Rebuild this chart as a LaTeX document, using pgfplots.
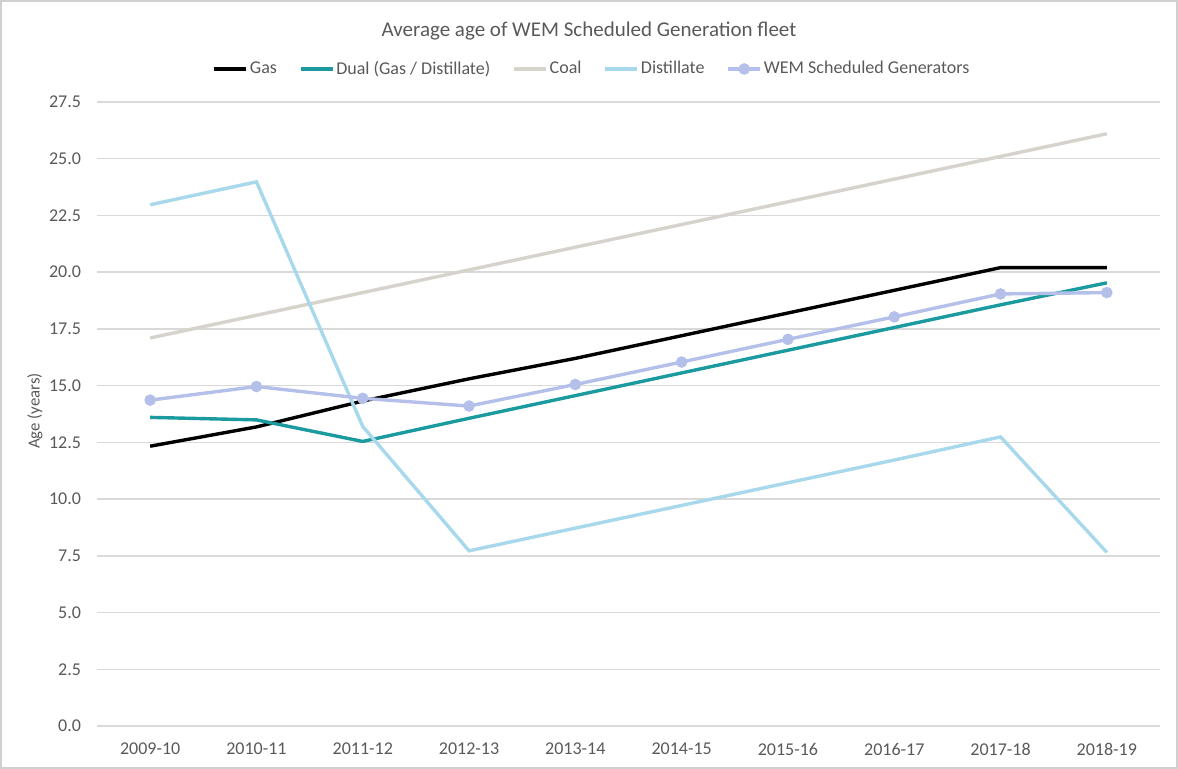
\documentclass[border=0pt]{standalone}
\usepackage{fontspec}
\setmainfont{Carlito}
\usepackage{pgfplots}
\pgfplotsset{compat=1.18}
\definecolor{dualc}{HTML}{1B9AA0}
\definecolor{coalc}{HTML}{D5D3CB}
\definecolor{distc}{HTML}{A8D8EB}
\definecolor{wemc}{HTML}{B4C0EA}
\definecolor{gridc}{HTML}{D9D9D9}
\definecolor{tickc}{HTML}{595959}
\definecolor{framec}{HTML}{D0D0D0}
\begin{document}
\begin{tikzpicture}
\useasboundingbox (0,0) rectangle (589pt,384.5pt);
\draw[draw=framec, line width=0.6pt] (0.5pt,0.5pt) rectangle (588.5pt,384pt);
\begin{axis}[
  at={(48.5pt,21.5pt)}, anchor=south west,
  scale only axis, width=531.5pt, height=312pt,
  xmin=-0.5, xmax=9.5, ymin=0, ymax=27.5,
  xtick={0,...,9},
  xticklabels={2009-10,2010-11,2011-12,2012-13,2013-14,2014-15,2015-16,2016-17,2017-18,2018-19},
  ytick={0,2.5,...,27.5},
  yticklabel style={/pgf/number format/.cd, fixed, fixed zerofill, precision=1},
  /pgf/number format/assume math mode=true,
  axis line style={draw=none}, major tick length=0pt,
  ymajorgrids, grid style={gridc, line width=0.7pt},
  tick label style={font=\fontsize{9}{10}\selectfont, text=tickc},
  xticklabel shift=5pt, yticklabel shift=4.5pt,
  ylabel={Age (years)},
  ylabel style={font=\fontsize{8.4}{10}\selectfont, text=tickc, at={(axis description cs:-0.0583,0.505)}, anchor=center},
  title={Average age of WEM Scheduled Generation fleet},
  title style={at={(axis description cs:0.4628,1.0946)}, anchor=center, font=\fontsize{10.5}{12}\selectfont, text=tickc},
  legend columns=-1,
  legend style={at={(axis description cs:0.4666,1.0529)}, anchor=center, draw=none, fill=none,
    font=\fontsize{9}{10}\selectfont, text=tickc,
    /tikz/every even column/.append style={column sep=9pt},
    /tikz/every odd column/.append style={column sep=-1pt}},
  legend image code/.code={\draw[#1, mark repeat=2, mark phase=2] plot coordinates {(0pt,0pt) (8pt,0pt) (16pt,0pt)};},
  every axis plot/.append style={line width=1.7pt},
]
\addplot[black, no markers] coordinates {(0,12.33) (1,13.18) (2,14.32) (3,15.3) (4,16.2) (5,17.2) (6,18.2) (7,19.2) (8,20.2) (9,20.2)};
\addlegendentry{Gas}
\addplot[dualc, no markers] coordinates {(0,13.6) (1,13.49) (2,12.54) (3,13.56) (4,14.56) (5,15.56) (6,16.56) (7,17.56) (8,18.56) (9,19.53)};
\addlegendentry{Dual (Gas / Distillate)}
\addplot[coalc, no markers] coordinates {(0,17.1) (1,18.1) (2,19.1) (3,20.1) (4,21.1) (5,22.1) (6,23.1) (7,24.1) (8,25.1) (9,26.1)};
\addlegendentry{Coal}
\addplot[distc, no markers] coordinates {(0,22.97) (1,23.98) (2,13.2) (3,7.72) (4,8.72) (5,9.72) (6,10.72) (7,11.72) (8,12.74) (9,7.65)};
\addlegendentry{Distillate}
\addplot[wemc, mark=*, mark size=2pt, mark options={solid, fill=wemc, draw=wemc}] coordinates {(0,14.36) (1,14.96) (2,14.44) (3,14.1) (4,15.05) (5,16.04) (6,17.04) (7,18.03) (8,19.04) (9,19.1)};
\addlegendentry{WEM Scheduled Generators}
\end{axis}
\end{tikzpicture}
\end{document}
